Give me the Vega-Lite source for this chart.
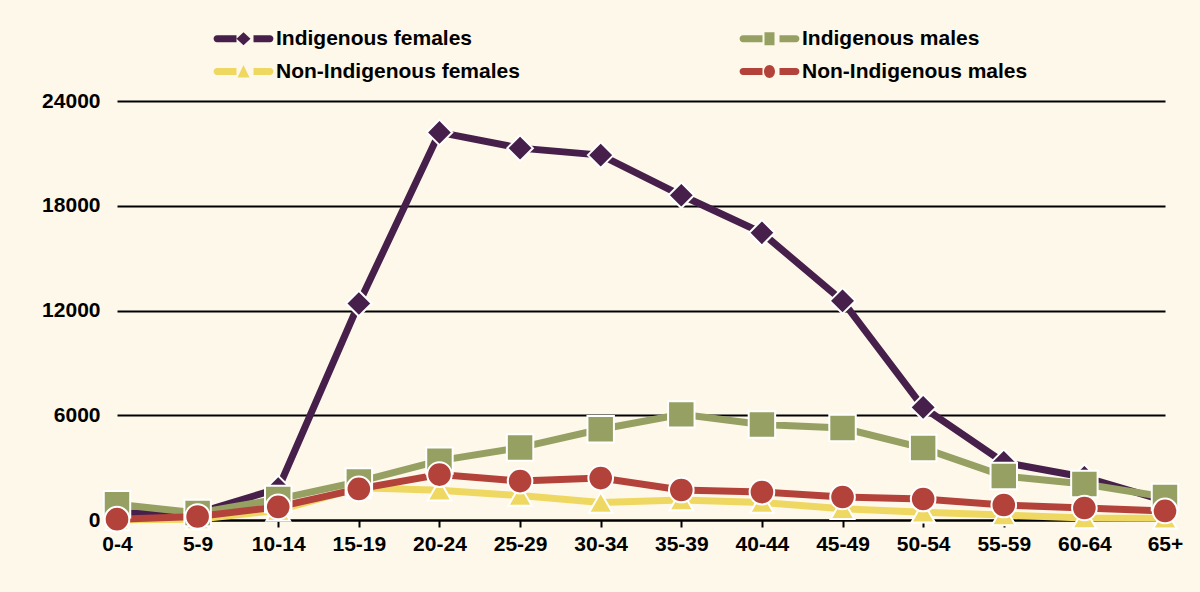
{
  "$schema": "https://vega.github.io/schema/vega-lite/v6.json",
  "width": 1048,
  "height": 419,
  "autosize": {"type": "none"},
  "padding": {"left": 117, "top": 101, "right": 35, "bottom": 72},
  "background": "#fef8ea",
  "config": {
    "view": {"stroke": null},
    "font": "Liberation Sans"
  },
  "data": {
    "values": [
      {"age": "0-4", "series": "Indigenous females", "value": 400},
      {"age": "5-9", "series": "Indigenous females", "value": 400},
      {"age": "10-14", "series": "Indigenous females", "value": 1800},
      {"age": "15-19", "series": "Indigenous females", "value": 12400},
      {"age": "20-24", "series": "Indigenous females", "value": 22200},
      {"age": "25-29", "series": "Indigenous females", "value": 21300},
      {"age": "30-34", "series": "Indigenous females", "value": 20900},
      {"age": "35-39", "series": "Indigenous females", "value": 18600},
      {"age": "40-44", "series": "Indigenous females", "value": 16450},
      {"age": "45-49", "series": "Indigenous females", "value": 12550},
      {"age": "50-54", "series": "Indigenous females", "value": 6450},
      {"age": "55-59", "series": "Indigenous females", "value": 3300},
      {"age": "60-64", "series": "Indigenous females", "value": 2450},
      {"age": "65+", "series": "Indigenous females", "value": 1100},
      {"age": "0-4", "series": "Non-Indigenous females", "value": 20},
      {"age": "5-9", "series": "Non-Indigenous females", "value": 50},
      {"age": "10-14", "series": "Non-Indigenous females", "value": 550},
      {"age": "15-19", "series": "Non-Indigenous females", "value": 1850},
      {"age": "20-24", "series": "Non-Indigenous females", "value": 1700},
      {"age": "25-29", "series": "Non-Indigenous females", "value": 1400},
      {"age": "30-34", "series": "Non-Indigenous females", "value": 1000},
      {"age": "35-39", "series": "Non-Indigenous females", "value": 1150},
      {"age": "40-44", "series": "Non-Indigenous females", "value": 1000},
      {"age": "45-49", "series": "Non-Indigenous females", "value": 650},
      {"age": "50-54", "series": "Non-Indigenous females", "value": 450},
      {"age": "55-59", "series": "Non-Indigenous females", "value": 280},
      {"age": "60-64", "series": "Non-Indigenous females", "value": 110},
      {"age": "65+", "series": "Non-Indigenous females", "value": 100},
      {"age": "0-4", "series": "Indigenous males", "value": 900},
      {"age": "5-9", "series": "Indigenous males", "value": 400},
      {"age": "10-14", "series": "Indigenous males", "value": 1200},
      {"age": "15-19", "series": "Indigenous males", "value": 2200},
      {"age": "20-24", "series": "Indigenous males", "value": 3400},
      {"age": "25-29", "series": "Indigenous males", "value": 4150},
      {"age": "30-34", "series": "Indigenous males", "value": 5200},
      {"age": "35-39", "series": "Indigenous males", "value": 6050},
      {"age": "40-44", "series": "Indigenous males", "value": 5470},
      {"age": "45-49", "series": "Indigenous males", "value": 5270},
      {"age": "50-54", "series": "Indigenous males", "value": 4120},
      {"age": "55-59", "series": "Indigenous males", "value": 2520},
      {"age": "60-64", "series": "Indigenous males", "value": 2060},
      {"age": "65+", "series": "Indigenous males", "value": 1320},
      {"age": "0-4", "series": "Non-Indigenous males", "value": 50},
      {"age": "5-9", "series": "Non-Indigenous males", "value": 200},
      {"age": "10-14", "series": "Non-Indigenous males", "value": 750},
      {"age": "15-19", "series": "Non-Indigenous males", "value": 1780},
      {"age": "20-24", "series": "Non-Indigenous males", "value": 2600},
      {"age": "25-29", "series": "Non-Indigenous males", "value": 2230},
      {"age": "30-34", "series": "Non-Indigenous males", "value": 2400},
      {"age": "35-39", "series": "Non-Indigenous males", "value": 1720},
      {"age": "40-44", "series": "Non-Indigenous males", "value": 1600},
      {"age": "45-49", "series": "Non-Indigenous males", "value": 1320},
      {"age": "50-54", "series": "Non-Indigenous males", "value": 1200},
      {"age": "55-59", "series": "Non-Indigenous males", "value": 860},
      {"age": "60-64", "series": "Non-Indigenous males", "value": 690},
      {"age": "65+", "series": "Non-Indigenous males", "value": 520}
    ]
  },
  "encoding": {
    "x": {
      "field": "age", "type": "ordinal", "sort": null,
      "scale": {"type": "point", "padding": 0},
      "axis": {"title": null, "labelAngle": 0, "labelFont": "Liberation Sans", "labelFontWeight": "bold", "labelFontSize": 21, "labelColor": "#000000", "domainColor": "#000000", "domainWidth": 2, "tickColor": "#000000", "tickWidth": 2, "tickSize": 7, "labelPadding": 6, "grid": false}
    },
    "y": {
      "field": "value", "type": "quantitative",
      "scale": {"domain": [0, 24000], "nice": false},
      "axis": {"title": null, "values": [0, 6000, 12000, 18000, 24000], "format": "d", "labelFont": "Liberation Sans", "labelFontWeight": "bold", "labelFontSize": 21, "labelColor": "#000000", "domain": false, "ticks": false, "labelPadding": 17, "grid": true, "gridColor": "#000000", "gridWidth": 2, "gridOpacity": 1}
    },
    "color": {
      "field": "series", "type": "nominal",
      "scale": {
        "domain": ["Indigenous females", "Indigenous males", "Non-Indigenous females", "Non-Indigenous males"],
        "range": ["#46204a", "#96a063", "#efd862", "#b3433a"]
      },
      "legend": {
        "title": null, "orient": "none", "legendX": 96, "legendY": -73,
        "columns": 2, "direction": "horizontal", "columnPadding": 219, "rowPadding": 11,
        "labelFont": "Liberation Sans", "labelFontWeight": "bold", "labelFontSize": 21, "labelColor": "#000000", "labelLimit": 500,
        "symbolSize": 400, "symbolStrokeWidth": 0, "symbolOpacity": 1, "labelOffset": 42, "padding": 0,
        "symbolFillColor": {"expr": "scale('color', datum.value)"},
        "symbolType": {"expr": "datum.value === 'Indigenous females' ? 'M-0.65,-0.34H1.3V0.34H-0.65A0.34,0.34 0 0 1 -0.65,-0.34Z M3,-0.34H4.65A0.34,0.34 0 0 1 4.65,0.34H3Z M2,-0.65L2.7,0L2,0.65L1.3,0Z' : datum.value === 'Indigenous males' ? 'M-0.65,-0.34H1.3V0.34H-0.65A0.34,0.34 0 0 1 -0.65,-0.34Z M3,-0.34H4.65A0.34,0.34 0 0 1 4.65,0.34H3Z M1.5,-0.65H2.5V0.65H1.5Z' : datum.value === 'Non-Indigenous females' ? 'M-0.65,-0.34H1.3V0.34H-0.65A0.34,0.34 0 0 1 -0.65,-0.34Z M3,-0.34H4.65A0.34,0.34 0 0 1 4.65,0.34H3Z M2,-0.65L2.6,0.6L1.4,0.6Z' : 'M-0.65,-0.34H1.3V0.34H-0.65A0.34,0.34 0 0 1 -0.65,-0.34Z M3,-0.34H4.65A0.34,0.34 0 0 1 4.65,0.34H3Z M2,-0.65A0.55,0.65 0 1 1 2,0.65A0.55,0.65 0 1 1 2,-0.65Z'"}
      }
    }
  },
  "layer": [
    {
      "mark": {"type": "line", "strokeWidth": 7}
    },
    {
      "mark": {"type": "point", "filled": true, "opacity": 1, "stroke": "#ffffff", "strokeWidth": 2},
      "encoding": {
        "shape": {
          "field": "series", "type": "nominal",
          "scale": {
            "domain": ["Non-Indigenous males", "Indigenous females", "Indigenous males", "Non-Indigenous females"],
            "range": ["circle", "diamond", "square", "triangle-up"]
          },
          "legend": null
        },
        "size": {
          "field": "series", "type": "nominal", "legend": null,
          "scale": {
            "domain": ["Non-Indigenous females", "Non-Indigenous males", "Indigenous females", "Indigenous males"],
            "range": [560, 700, 520, 540]
          }
        }
      }
    }
  ]
}
